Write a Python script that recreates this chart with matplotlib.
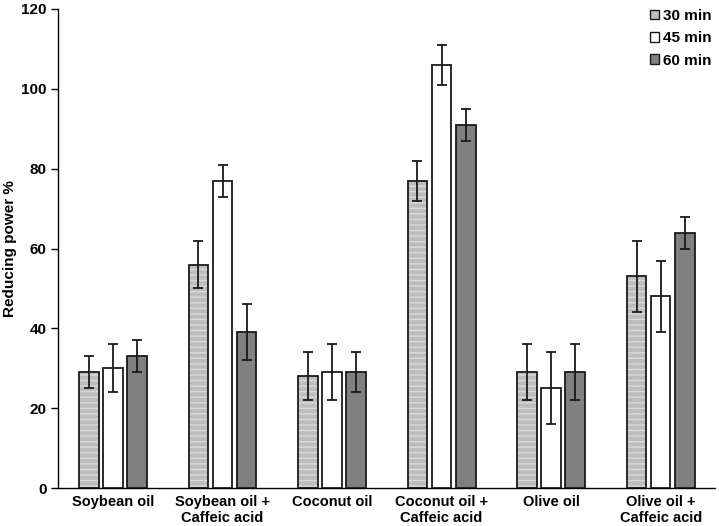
import matplotlib
matplotlib.use("Agg")
import matplotlib.pyplot as plt
import numpy as np
from matplotlib.patches import Patch

plt.rcParams['font.family'] = ['Liberation Sans', 'DejaVu Sans']
plt.rcParams['font.weight'] = 'bold'

categories = ["Soybean oil", "Soybean oil +\nCaffeic acid", "Coconut oil",
              "Coconut oil +\nCaffeic acid", "Olive oil", "Olive oil +\nCaffeic acid"]
series_names = ["30 min", "45 min", "60 min"]
v30 = [29, 56, 28, 77, 29, 53]
v45 = [30, 77, 29, 106, 25, 48]
v60 = [33, 39, 29, 91, 29, 64]
e30 = [4, 6, 6, 5, 7, 9]
e45 = [6, 4, 7, 5, 9, 9]
e60 = [4, 7, 5, 4, 7, 4]
yticks = [0, 20, 40, 60, 80, 100, 120]

fig = plt.figure(figsize=(7.19, 5.26), dpi=100)
ax = fig.add_axes([0.081, 0.072, 0.914, 0.911])

x = np.arange(len(categories))
w = 0.18
gap = 0.04
offsets = [-(w + gap), 0, (w + gap)]
vals = [v30, v45, v60]
errs = [e30, e45, e60]

ax.bar(x + offsets[0], v30, w, color='#bdbdbd', edgecolor='#dadada', hatch='---', linewidth=0, zorder=2)
ax.bar(x + offsets[0], v30, w, fill=False, edgecolor='#1a1a1a', linewidth=1.3, zorder=3)
ax.bar(x + offsets[1], v45, w, color='white', edgecolor='#1a1a1a', linewidth=1.3, zorder=3)
ax.bar(x + offsets[2], v60, w, color='#808080', edgecolor='#1a1a1a', linewidth=1.3, zorder=3)
for off, v, e in zip(offsets, vals, errs):
    ax.errorbar(x + off, v, yerr=e, fmt='none', ecolor='#1a1a1a', elinewidth=1.3,
                capsize=3.5, capthick=1.3, zorder=4)

handles = [Patch(facecolor='#bdbdbd', edgecolor='#1a1a1a', linewidth=1),
           Patch(facecolor='white', edgecolor='#1a1a1a', linewidth=1),
           Patch(facecolor='#808080', edgecolor='#1a1a1a', linewidth=1)]
ax.legend(handles, series_names, loc='upper right', frameon=False, fontsize=11,
          handlelength=0.6, handleheight=0.6, handletextpad=0.25, labelspacing=0.55,
          borderaxespad=0.0, bbox_to_anchor=(1.003, 1.013))

ax.set_xlim(-0.5, len(categories) - 0.5)
ax.set_ylim(0, 120)
ax.set_yticks(yticks)
ax.set_xticks(x)
ax.set_xticklabels(categories, fontsize=10.5, fontweight='bold', linespacing=1.2)
ax.tick_params(axis='x', length=0, pad=5)
ax.tick_params(axis='y', direction='out', length=5, width=1, labelsize=11)
for t in ax.get_yticklabels():
    t.set_fontweight('bold')
ax.set_ylabel('Reducing power %', fontsize=11, fontweight='bold', labelpad=3)
ax.spines['top'].set_visible(False)
ax.spines['right'].set_visible(False)
ax.spines['left'].set_linewidth(1)
ax.spines['bottom'].set_linewidth(1)

fig.savefig('out.png', dpi=100)
